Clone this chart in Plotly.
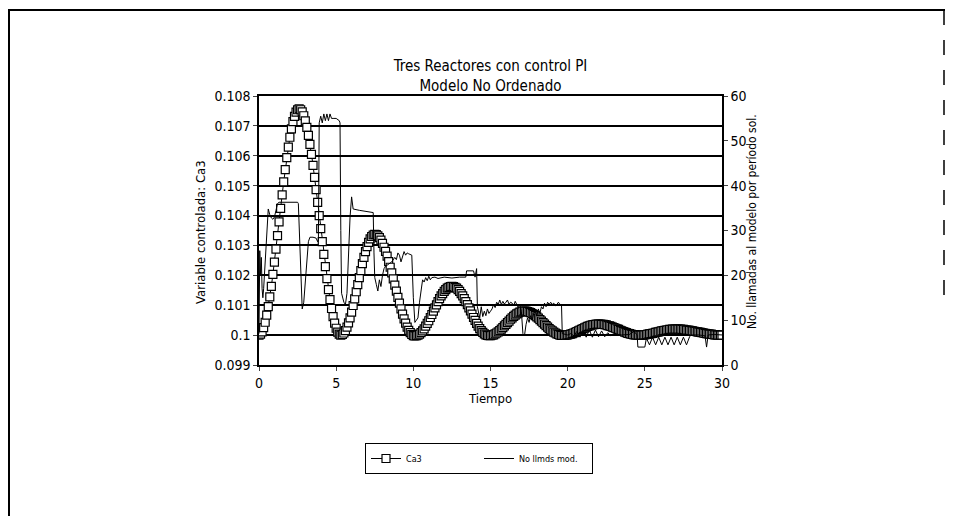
import plotly.graph_objects as go

# ---------------- data ----------------
# Ca3 sampled every 0.1 time units from t = 0 to t = 30
ca3 = [
    # 0.0 - 2.6
    0.10000, 0.10003, 0.10011, 0.10025, 0.10043, 0.10067, 0.10095, 0.10128, 0.10163, 0.10203,
    0.10244, 0.10288, 0.10333, 0.10379, 0.10424, 0.10469, 0.10513, 0.10554, 0.10594, 0.10629,
    0.10662, 0.10690, 0.10714, 0.10732, 0.10746, 0.10754, 0.10757,
    # 2.7 - 5.3
    0.10754, 0.10747, 0.10734, 0.10717, 0.10695, 0.10668, 0.10638, 0.10605, 0.10568, 0.10528,
    0.10487, 0.10444, 0.10400, 0.10356, 0.10313, 0.10270, 0.10229, 0.10189, 0.10152, 0.10119,
    0.10089, 0.10062, 0.10040, 0.10023, 0.10010, 0.10003, 0.10000,
    # 5.4 - 7.5
    0.10002, 0.10007, 0.10015, 0.10027, 0.10041, 0.10058, 0.10077, 0.10099, 0.10121, 0.10145,
    0.10169, 0.10192, 0.10216, 0.10239, 0.10260, 0.10279, 0.10296, 0.10310, 0.10322, 0.10330,
    0.10335, 0.10337,
    # 7.6 - 10.1
    0.10336, 0.10332, 0.10326, 0.10318, 0.10307, 0.10294, 0.10280, 0.10264, 0.10246, 0.10227,
    0.10208, 0.10188, 0.10167, 0.10147, 0.10126, 0.10107, 0.10088, 0.10070, 0.10054, 0.10040,
    0.10027, 0.10016, 0.10008, 0.10002, 0.09998, 0.09997,
    # 10.2 - 12.5
    0.09998, 0.10000, 0.10003, 0.10008, 0.10014, 0.10021, 0.10030, 0.10039, 0.10048, 0.10059,
    0.10069, 0.10080, 0.10091, 0.10101, 0.10112, 0.10122, 0.10131, 0.10139, 0.10146, 0.10152,
    0.10157, 0.10160, 0.10162, 0.10163,
    # 12.6 - 14.9
    0.10162, 0.10160, 0.10157, 0.10152, 0.10146, 0.10139, 0.10131, 0.10122, 0.10112, 0.10102,
    0.10091, 0.10081, 0.10070, 0.10059, 0.10049, 0.10039, 0.10030, 0.10022, 0.10015, 0.10009,
    0.10004, 0.10001, 0.09999, 0.09998,
    # 15.0 - 17.2
    0.09998, 0.10000, 0.10001, 0.10004, 0.10007, 0.10011, 0.10015, 0.10020, 0.10025, 0.10031,
    0.10036, 0.10042, 0.10047, 0.10053, 0.10058, 0.10063, 0.10067, 0.10071, 0.10074, 0.10077,
    0.10078, 0.10080, 0.10080,
    # 17.3 - 19.7
    0.10080, 0.10079, 0.10077, 0.10075, 0.10072, 0.10069, 0.10065, 0.10061, 0.10057, 0.10052,
    0.10047, 0.10042, 0.10037, 0.10032, 0.10027, 0.10022, 0.10018, 0.10014, 0.10010, 0.10007,
    0.10004, 0.10002, 0.10000, 0.09999, 0.09999,
    # 19.8 - 22.0
    0.09999, 0.10000, 0.10001, 0.10002, 0.10003, 0.10005, 0.10007, 0.10009, 0.10012, 0.10014,
    0.10017, 0.10019, 0.10022, 0.10024, 0.10027, 0.10029, 0.10031, 0.10033, 0.10034, 0.10035,
    0.10036, 0.10037, 0.10037,
    # 22.1 - 24.6
    0.10037, 0.10036, 0.10036, 0.10035, 0.10034, 0.10032, 0.10031, 0.10029, 0.10027, 0.10025,
    0.10023, 0.10021, 0.10019, 0.10016, 0.10014, 0.10012, 0.10010, 0.10008, 0.10006, 0.10005,
    0.10003, 0.10002, 0.10001, 0.10001, 0.10000, 0.10000,
    # 24.7 - 27.0
    0.10000, 0.10000, 0.10001, 0.10001, 0.10002, 0.10003, 0.10004, 0.10005, 0.10006, 0.10007,
    0.10009, 0.10010, 0.10011, 0.10013, 0.10014, 0.10015, 0.10016, 0.10017, 0.10018, 0.10019,
    0.10019, 0.10020, 0.10020, 0.10020,
    # 27.1 - 30.0
    0.10020, 0.10020, 0.10020, 0.10019, 0.10019, 0.10018, 0.10017, 0.10017, 0.10016, 0.10015,
    0.10014, 0.10013, 0.10012, 0.10011, 0.10010, 0.10009, 0.10008, 0.10007, 0.10006, 0.10005,
    0.10004, 0.10003, 0.10003, 0.10002, 0.10001, 0.10001, 0.10000, 0.10000, 0.10000, 0.10000,
]
t_ca3 = [i / 10 for i in range(len(ca3))]

# number of model calls per solution period (right axis)
t_mod = [
    0.0, 0.05, 0.1, 0.15, 0.2, 0.25, 0.3, 0.4, 0.5, 0.6, 0.7, 0.8, 0.9, 1.0, 1.1, 1.2, 1.3, 2.5,
    2.55, 2.65, 2.75, 2.8, 2.9, 3.0, 3.1, 3.2, 3.3, 3.5, 3.7, 3.8, 3.85,
    3.9, 4.0, 4.1, 4.2, 4.3, 4.4, 4.5, 4.6, 4.7, 4.8, 5.0, 5.2, 5.25,
    5.3, 5.35, 5.5, 5.6, 5.7, 5.8, 5.9, 6.0, 6.1, 6.5, 7.0, 7.4, 7.45,
    7.5, 7.6, 7.7, 7.8, 7.9, 8.0, 8.1, 8.2, 8.4, 8.6, 8.8, 8.9, 9.0, 9.1, 9.2, 9.3, 9.4, 9.5,
    9.6, 9.7, 9.9, 10.0, 10.1, 10.2, 10.3, 10.4, 10.5, 10.6, 10.7, 10.8, 10.9, 11.0, 11.1,
    11.2, 11.4, 11.6, 12.0, 12.5, 13.0, 13.4, 13.45, 13.9, 14.0, 14.1, 14.15,
    14.3, 14.4, 14.5, 14.6, 14.7, 14.8, 14.9, 15.0, 15.1, 15.2, 15.3, 15.4, 15.5, 15.6, 15.7,
    15.8, 15.9, 16.0, 16.1, 16.2, 16.3, 16.4, 16.5, 16.6, 16.7, 16.8, 16.9, 17.0, 17.1, 17.2,
    17.3, 17.4, 17.5, 17.6, 17.7, 17.8, 17.9, 18.0, 18.1, 18.2, 18.3, 18.4, 18.5, 18.6, 18.7,
    18.8, 18.9, 19.0, 19.1, 19.2, 19.3, 19.4, 19.5, 19.6, 19.65, 19.8, 20.0,
    20.2, 20.4, 20.6, 20.8, 21.0, 21.2, 21.4, 21.6, 21.8, 22.0, 22.2, 22.4, 22.6, 22.8, 23.0,
    23.5, 24.0, 24.3, 24.5, 24.55, 25.0, 25.1, 25.3, 25.5, 25.7, 25.9, 26.1, 26.3, 26.5, 26.7,
    26.9, 27.1, 27.3, 27.5, 27.7, 27.9, 28.0, 28.5, 28.9, 29.0, 29.1, 29.5, 30.0,
]
n_mod = [
    7.0, 25.5, 20.0, 24.0, 17.0, 15.0, 17.0, 24.0, 31.0, 34.8, 33.5, 32.8, 32.5, 33.0, 34.5, 36.0, 36.3, 36.3,
    36.0, 25.0, 14.0, 12.5, 14.0, 19.0, 24.0, 27.5, 28.5, 28.5, 28.3, 27.5, 28.0,
    54.0, 55.5, 54.0, 56.0, 54.5, 56.0, 54.5, 56.0, 55.0, 55.0, 55.0, 54.5, 54.0,
    30.0, 16.0, 14.0, 13.5, 16.0, 25.0, 33.0, 37.5, 34.8, 34.5, 34.3, 34.0, 25.0,
    19.5, 18.0, 16.5, 19.0, 17.5, 20.0, 21.5, 22.0, 22.5, 23.0, 24.0, 23.5, 25.0, 24.5, 23.0, 24.5, 25.3, 24.5,
    25.0, 24.8, 24.5, 15.0, 9.5, 10.0, 10.5, 14.0, 17.0, 19.0, 18.5, 19.5, 18.8, 19.8, 19.0,
    19.5, 19.6, 19.3, 19.6, 19.4, 19.6, 19.6, 21.0, 21.0, 19.6, 21.5, 13.0,
    10.5, 13.0, 10.8, 12.0, 11.0, 12.5, 11.5, 12.0, 12.5, 13.5, 12.8, 14.0, 13.5, 14.5, 13.5,
    14.2, 13.6, 14.0, 14.5, 13.5, 14.0, 13.8, 13.2, 14.2, 13.5, 12.8, 13.5, 12.0, 7.0, 6.5,
    9.0, 10.5, 9.5, 11.0, 10.0, 11.5, 12.0, 11.0, 12.5, 11.5, 13.0, 12.5, 13.8, 13.0, 14.0,
    13.5, 14.0, 13.5, 13.8, 13.2, 13.5, 14.0, 13.5, 13.5, 7.0, 6.8, 6.7,
    7.0, 6.5, 7.5, 6.2, 7.6, 6.2, 7.8, 6.2, 7.8, 6.3, 7.6, 6.3, 7.2, 6.5, 7.0,
    6.7, 6.8, 7.5, 6.7, 4.0, 4.0, 6.0, 4.5, 6.2, 4.5, 6.2, 4.5, 6.2, 4.5, 6.2,
    4.5, 6.2, 4.5, 6.2, 4.5, 6.3, 6.7, 6.7, 6.5, 4.0, 6.7, 6.8, 6.7,
]

x_ticks = [0, 5, 10, 15, 20, 25, 30]
y_left_ticks = [0.099, 0.100, 0.101, 0.102, 0.103, 0.104, 0.105, 0.106, 0.107, 0.108]
y_left_labels = ["0.099", "0.1", "0.101", "0.102", "0.103", "0.104", "0.105", "0.106", "0.107", "0.108"]
y_right_ticks = [0, 10, 20, 30, 40, 50, 60]

title_text = "Tres Reactores con control PI<br>Modelo No Ordenado"
x_title = "Tiempo"
y_left_title = "Variable controlada: Ca3"
y_right_title = "No. llamadas al modelo por período sol."

# ---------------- figure ----------------
FONT = "DejaVu Sans Condensed, Liberation Sans Narrow, Arial Narrow, DejaVu Sans, sans-serif"

fig = go.Figure()
fig.add_trace(go.Scatter(
    x=t_ca3, y=ca3, name="Ca3", mode="lines+markers",
    line=dict(color="black", width=1),
    marker=dict(symbol="square", size=8, color="white", line=dict(color="black", width=1.2)),
))
fig.add_trace(go.Scatter(
    x=t_mod, y=n_mod, name="No llmds mod.", mode="lines", yaxis="y2",
    line=dict(color="black", width=1),
))

W, H = 953, 516
OFF = 8  # page body margin offset
L, T = 259 - OFF, 96 - OFF
pw, ph = 463, 269
R = W - L - pw
B = H - T - ph


def px(xs):
    # screen x -> paper fraction
    return (xs - OFF - L) / pw


def py(ys):
    # screen y -> paper fraction
    return (T + ph - (ys - OFF)) / ph


fig.update_layout(
    width=W, height=H,
    margin=dict(l=L, r=R, t=T, b=B, pad=0),
    paper_bgcolor="white", plot_bgcolor="white",
    font=dict(family=FONT, color="black", size=13),
    title=dict(text=title_text, x=0.5, xref="paper", xanchor="center",
               y=(H - (71 - OFF)) / H, yref="container", yanchor="middle",
               font=dict(size=15, family=FONT)),
    xaxis=dict(range=[0, 30], tickvals=x_ticks, ticks="outside", ticklen=4, tickwidth=1,
               showline=True, linecolor="black", linewidth=1.5, mirror=True,
               showgrid=False, zeroline=False, tickfont=dict(size=14),
               title=dict(text=x_title, font=dict(size=13), standoff=4)),
    yaxis=dict(range=[0.099, 0.108], tickvals=y_left_ticks, ticktext=y_left_labels,
               ticks="outside", ticklen=4, tickwidth=1,
               showline=True, linecolor="black", linewidth=1.5, mirror=True,
               showgrid=True, gridcolor="black", gridwidth=1.5, zeroline=False,
               tickfont=dict(size=14)),
    yaxis2=dict(range=[0, 60], tickvals=y_right_ticks, overlaying="y", side="right",
                ticks="outside", ticklen=4, tickwidth=1,
                showline=True, linecolor="black", linewidth=1.5,
                showgrid=False, zeroline=False, tickfont=dict(size=14)),
    showlegend=True,
    legend=dict(orientation="h", x=px(365), y=py(443), xanchor="left", yanchor="top",
                bordercolor="black", borderwidth=1, bgcolor="white",
                font=dict(size=9, family=FONT), entrywidthmode="pixels", entrywidth=68,
                itemwidth=30, tracegroupgap=0),
    annotations=[
        dict(text=y_left_title, textangle=-90, x=px(200), y=py(232), xref="paper", yref="paper",
             xanchor="center", yanchor="middle", showarrow=False, font=dict(size=13, family=FONT)),
        dict(text=y_right_title, textangle=-90, x=px(752), y=py(222), xref="paper", yref="paper",
             xanchor="center", yanchor="middle", showarrow=False, font=dict(size=12, family=FONT)),
    ],
    shapes=[
        dict(type="path", xref="paper", yref="paper",
             path=f"M {px(9)} {py(530)} L {px(9)} {py(10)} L {px(945)} {py(10)}",
             line=dict(color="black", width=2)),
        dict(type="line", xref="paper", yref="paper", x0=px(944), x1=px(944), y0=py(10), y1=py(310),
             line=dict(color="black", width=1.5, dash="longdash")),
    ],
)

fig.write_html("out.html")
